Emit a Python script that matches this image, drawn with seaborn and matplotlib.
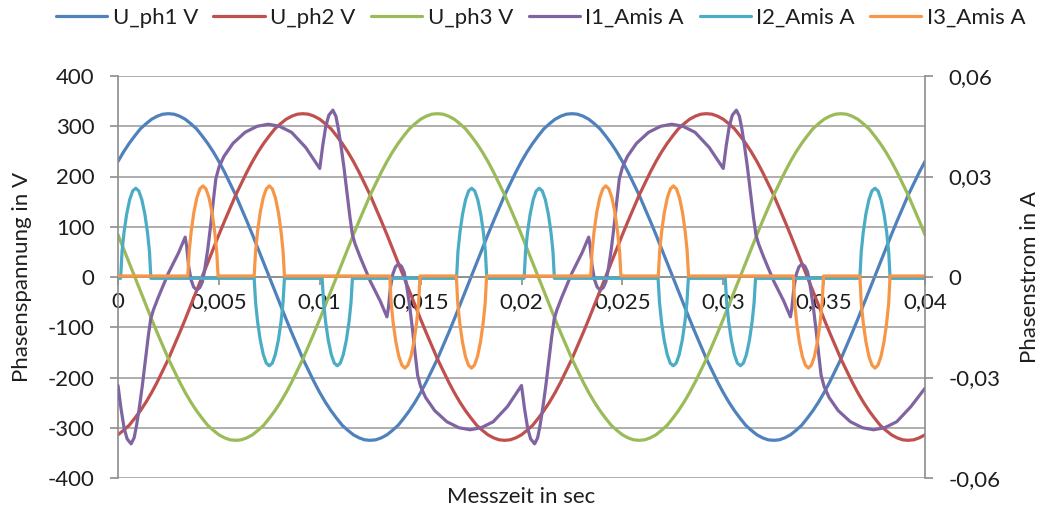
import numpy as np
import pandas as pd
import seaborn as sns
import matplotlib
matplotlib.use("Agg")
import matplotlib.pyplot as plt
from matplotlib.lines import Line2D

# ---------------------------------------------------------------------------
# Phase voltages in V, 145 samples from 0 to 40 ms (5 degree steps at 50 Hz)
# ---------------------------------------------------------------------------
t_volt_ms = np.linspace(0.0, 40.0, 145)

u_ph1 = [230, 249, 266, 281, 295, 305, 314, 320, 324, 325, 324, 320, 314, 305, 295, 281, 266, 249,
         230, 209, 186, 163, 137, 111, 84, 56, 28, 0, -28, -56, -84, -111, -137, -163, -186, -209,
         -230, -249, -266, -281, -295, -305, -314, -320, -324, -325, -324, -320, -314, -305, -295, -281, -266, -249,
         -230, -209, -186, -163, -137, -111, -84, -56, -28, 0, 28, 56, 84, 111, 137, 163, 186, 209,
         230, 249, 266, 281, 295, 305, 314, 320, 324, 325, 324, 320, 314, 305, 295, 281, 266, 249,
         230, 209, 186, 163, 137, 111, 84, 56, 28, 0, -28, -56, -84, -111, -137, -163, -186, -209,
         -230, -249, -266, -281, -295, -305, -314, -320, -324, -325, -324, -320, -314, -305, -295, -281, -266, -249,
         -230, -209, -186, -163, -137, -111, -84, -56, -28, 0, 28, 56, 84, 111, 137, 163, 186, 209,
         230]

u_ph2 = [-314, -305, -295, -281, -266, -249, -230, -209, -186, -163, -137, -111, -84, -56, -28, 0, 28, 56,
         84, 111, 137, 163, 186, 209,
         230, 249, 266, 281, 295, 305, 314, 320, 324, 325, 324, 320, 314, 305, 295, 281, 266, 249,
         230, 209, 186, 163, 137, 111, 84, 56, 28, 0, -28, -56, -84, -111, -137, -163, -186, -209,
         -230, -249, -266, -281, -295, -305, -314, -320, -324, -325, -324, -320, -314, -305, -295, -281, -266, -249,
         -230, -209, -186, -163, -137, -111, -84, -56, -28, 0, 28, 56, 84, 111, 137, 163, 186, 209,
         230, 249, 266, 281, 295, 305, 314, 320, 324, 325, 324, 320, 314, 305, 295, 281, 266, 249,
         230, 209, 186, 163, 137, 111, 84, 56, 28, 0, -28, -56, -84, -111, -137, -163, -186, -209,
         -230, -249, -266, -281, -295, -305, -314, -320, -324, -325, -324, -320,
         -314]

u_ph3 = [84, 56, 28, 0, -28, -56, -84, -111, -137, -163, -186, -209,
         -230, -249, -266, -281, -295, -305, -314, -320, -324, -325, -324, -320, -314, -305, -295, -281, -266, -249,
         -230, -209, -186, -163, -137, -111, -84, -56, -28, 0, 28, 56, 84, 111, 137, 163, 186, 209,
         230, 249, 266, 281, 295, 305, 314, 320, 324, 325, 324, 320, 314, 305, 295, 281, 266, 249,
         230, 209, 186, 163, 137, 111, 84, 56, 28, 0, -28, -56, -84, -111, -137, -163, -186, -209,
         -230, -249, -266, -281, -295, -305, -314, -320, -324, -325, -324, -320, -314, -305, -295, -281, -266, -249,
         -230, -209, -186, -163, -137, -111, -84, -56, -28, 0, 28, 56, 84, 111, 137, 163, 186, 209,
         230, 249, 266, 281, 295, 305, 314, 320, 324, 325, 324, 320, 314, 305, 295, 281, 266, 249,
         230, 209, 186, 163, 137, 111,
         84]

# ---------------------------------------------------------------------------
# Phase currents in mA, given at the breakpoints of each waveform (time in ms)
# ---------------------------------------------------------------------------
i1_ms = [0.00, 0.15, 0.30, 0.45, 0.65, 0.80, 0.92, 1.05, 1.20, 1.35, 1.50, 1.62, 1.75, 2.00, 2.50, 3.00, 3.25, 3.33, 3.40, 3.50,
         3.62, 3.75, 3.90, 4.05, 4.18, 4.30, 4.45, 4.60, 4.73, 4.85, 5.00, 5.25, 5.70, 6.30, 6.90, 7.45, 8.00, 8.60, 9.30,
         10.00, 10.15, 10.30, 10.45, 10.65, 10.80, 10.92, 11.05, 11.20, 11.35, 11.50, 11.62, 11.75, 12.00, 12.50, 13.00, 13.25, 13.33, 13.40, 13.50,
         13.62, 13.75, 13.90, 14.05, 14.18, 14.30, 14.45, 14.60, 14.73, 14.85, 15.00, 15.25, 15.70, 16.30, 16.90, 17.45, 18.00, 18.60, 19.30,
         20.00, 20.15, 20.30, 20.45, 20.65, 20.80, 20.92, 21.05, 21.20, 21.35, 21.50, 21.62, 21.75, 22.00, 22.50, 23.00, 23.25, 23.33, 23.40, 23.50,
         23.62, 23.75, 23.90, 24.05, 24.18, 24.30, 24.45, 24.60, 24.73, 24.85, 25.00, 25.25, 25.70, 26.30, 26.90, 27.45, 28.00, 28.60, 29.30,
         30.00, 30.15, 30.30, 30.45, 30.65, 30.80, 30.92, 31.05, 31.20, 31.35, 31.50, 31.62, 31.75, 32.00, 32.50, 33.00, 33.25, 33.33, 33.40, 33.50,
         33.62, 33.75, 33.90, 34.05, 34.18, 34.30, 34.45, 34.60, 34.73, 34.85, 35.00, 35.25, 35.70, 36.30, 36.90, 37.45, 38.00, 38.60, 39.30,
         40.00]
i1_ma = [-32.4, -39.3, -45.0, -48.3, -49.8, -48.0, -44.3, -39.3, -32.7, -25.2, -17.7, -12.6, -9.9, -6.0, 1.2, 7.2, 10.8, 11.9, 9.3, 3.3,
         -0.8, -3.0, -3.9, -3.2, -1.5, 2.3, 8.3, 15.8, 23.0, 29.3, 32.7, 36.0, 39.9, 43.2, 45.0, 45.6, 45.0, 43.2, 38.7,
         32.4, 39.3, 45.0, 48.3, 49.8, 48.0, 44.3, 39.3, 32.7, 25.2, 17.7, 12.6, 9.9, 6.0, -1.2, -7.2, -10.8, -11.9, -9.3, -3.3,
         0.8, 3.0, 3.9, 3.2, 1.5, -2.3, -8.3, -15.8, -23.0, -29.3, -32.7, -36.0, -39.9, -43.2, -45.0, -45.6, -45.0, -43.2, -38.7,
         -32.4, -39.3, -45.0, -48.3, -49.8, -48.0, -44.3, -39.3, -32.7, -25.2, -17.7, -12.6, -9.9, -6.0, 1.2, 7.2, 10.8, 11.9, 9.3, 3.3,
         -0.8, -3.0, -3.9, -3.2, -1.5, 2.3, 8.3, 15.8, 23.0, 29.3, 32.7, 36.0, 39.9, 43.2, 45.0, 45.6, 45.0, 43.2, 38.7,
         32.4, 39.3, 45.0, 48.3, 49.8, 48.0, 44.3, 39.3, 32.7, 25.2, 17.7, 12.6, 9.9, 6.0, -1.2, -7.2, -10.8, -11.9, -9.3, -3.3,
         0.8, 3.0, 3.9, 3.2, 1.5, -2.3, -8.3, -15.8, -23.0, -29.3, -32.7, -36.0, -39.9, -43.2, -45.0, -45.6, -45.0, -43.2, -38.7,
         -33.2]

i2_ms = [0.00,
         0.13, 0.20, 0.30, 0.43, 0.58, 0.73, 0.88, 1.03, 1.18, 1.33, 1.46, 1.56, 1.63,
         6.75, 6.82, 6.92, 7.05, 7.20, 7.35, 7.50, 7.65, 7.80, 7.95, 8.08, 8.18, 8.25,
         10.12, 10.19, 10.29, 10.42, 10.57, 10.72, 10.87, 11.02, 11.17, 11.32, 11.45, 11.55, 11.62,
         16.78, 16.85, 16.95, 17.08, 17.23, 17.38, 17.53, 17.68, 17.83, 17.98, 18.11, 18.21, 18.28,
         20.13, 20.20, 20.30, 20.43, 20.58, 20.73, 20.88, 21.03, 21.18, 21.33, 21.46, 21.56, 21.63,
         26.77, 26.84, 26.94, 27.07, 27.22, 27.37, 27.52, 27.67, 27.82, 27.97, 28.10, 28.20, 28.27,
         30.10, 30.17, 30.27, 30.40, 30.55, 30.70, 30.85, 31.00, 31.15, 31.30, 31.43, 31.53, 31.60,
         36.77, 36.84, 36.94, 37.07, 37.22, 37.37, 37.52, 37.67, 37.82, 37.97, 38.10, 38.20, 38.27,
         40.00]
i2_ma = [-0.4,
         -0.4, 7.6, 13.4, 18.8, 23.1, 25.7, 26.5, 25.7, 23.1, 18.8, 13.4, 7.6, -0.4,
         -0.4, -7.6, -13.4, -18.8, -23.1, -25.7, -26.5, -25.7, -23.1, -18.8, -13.4, -7.6, -0.4,
         -0.4, -7.6, -13.4, -18.8, -23.1, -25.7, -26.5, -25.7, -23.1, -18.8, -13.4, -7.6, -0.4,
         -0.4, 7.6, 13.4, 18.8, 23.1, 25.7, 26.5, 25.7, 23.1, 18.8, 13.4, 7.6, -0.4,
         -0.4, 7.6, 13.4, 18.8, 23.1, 25.7, 26.5, 25.7, 23.1, 18.8, 13.4, 7.6, -0.4,
         -0.4, -7.6, -13.4, -18.8, -23.1, -25.7, -26.5, -25.7, -23.1, -18.8, -13.4, -7.6, -0.4,
         -0.4, -7.6, -13.4, -18.8, -23.1, -25.7, -26.5, -25.7, -23.1, -18.8, -13.4, -7.6, -0.4,
         -0.4, 7.6, 13.4, 18.8, 23.1, 25.7, 26.5, 25.7, 23.1, 18.8, 13.4, 7.6, -0.4,
         -0.4]

i3_ms = [0.00,
         3.46, 3.53, 3.63, 3.76, 3.91, 4.06, 4.21, 4.36, 4.51, 4.66, 4.79, 4.89, 4.96,
         6.75, 6.82, 6.92, 7.05, 7.20, 7.35, 7.50, 7.65, 7.80, 7.95, 8.08, 8.18, 8.25,
         13.47, 13.54, 13.64, 13.77, 13.92, 14.07, 14.22, 14.37, 14.52, 14.67, 14.80, 14.90, 14.97,
         16.77, 16.84, 16.94, 17.07, 17.22, 17.37, 17.52, 17.67, 17.82, 17.97, 18.10, 18.20, 18.27,
         23.43, 23.50, 23.60, 23.73, 23.88, 24.03, 24.18, 24.33, 24.48, 24.63, 24.76, 24.86, 24.93,
         26.78, 26.85, 26.95, 27.08, 27.23, 27.38, 27.53, 27.68, 27.83, 27.98, 28.11, 28.21, 28.28,
         33.47, 33.54, 33.64, 33.77, 33.92, 34.07, 34.22, 34.37, 34.52, 34.67, 34.80, 34.90, 34.97,
         36.77, 36.84, 36.94, 37.07, 37.22, 37.37, 37.52, 37.67, 37.82, 37.97, 38.10, 38.20, 38.27,
         40.00]
i3_ma = [0.3,
         0.3, 7.8, 13.7, 19.3, 23.7, 26.3, 27.2, 26.3, 23.7, 19.3, 13.7, 7.8, 0.3,
         0.3, 7.8, 13.7, 19.3, 23.7, 26.3, 27.2, 26.3, 23.7, 19.3, 13.7, 7.8, 0.3,
         0.3, -7.8, -13.7, -19.3, -23.7, -26.3, -27.2, -26.3, -23.7, -19.3, -13.7, -7.8, 0.3,
         0.3, -7.8, -13.7, -19.3, -23.7, -26.3, -27.2, -26.3, -23.7, -19.3, -13.7, -7.8, 0.3,
         0.3, 7.8, 13.7, 19.3, 23.7, 26.3, 27.2, 26.3, 23.7, 19.3, 13.7, 7.8, 0.3,
         0.3, 7.8, 13.7, 19.3, 23.7, 26.3, 27.2, 26.3, 23.7, 19.3, 13.7, 7.8, 0.3,
         0.3, -7.8, -13.7, -19.3, -23.7, -26.3, -27.2, -26.3, -23.7, -19.3, -13.7, -7.8, 0.3,
         0.3, -7.8, -13.7, -19.3, -23.7, -26.3, -27.2, -26.3, -23.7, -19.3, -13.7, -7.8, 0.3,
         0.3]

series_names = ["U_ph1 V", "U_ph2 V", "U_ph3 V", "I1_Amis A", "I2_Amis A", "I3_Amis A"]
series_colors = ["#4F81BD", "#C0504D", "#9BBB59", "#8064A2", "#4BACC6", "#F79646"]

x_ticks = [0, 0.005, 0.01, 0.015, 0.02, 0.025, 0.03, 0.035, 0.04]
x_tick_labels = ["0", "0,005", "0,01", "0,015", "0,02", "0,025", "0,03", "0,035", "0,04"]
v_ticks = [400, 300, 200, 100, 0, -100, -200, -300, -400]
v_tick_labels = ["400", "300", "200", "100", "0", "-100", "-200", "-300", "-400"]
a_ticks = [0.06, 0.03, 0, -0.03, -0.06]
a_tick_labels = ["0,06", "0,03", "0", "-0,03", "-0,06"]

# ---------------------------------------------------------------------------
# Long-form tables
# ---------------------------------------------------------------------------
volt_df = pd.concat([
    pd.DataFrame({"t": t_volt_ms / 1000.0, "value": vals, "series": name})
    for name, vals in zip(series_names[:3], [u_ph1, u_ph2, u_ph3])
], ignore_index=True)

curr_df = pd.concat([
    pd.DataFrame({"t": np.asarray(ts) / 1000.0, "value": np.asarray(vs) / 1000.0, "series": name})
    for name, ts, vs in zip(series_names[3:], [i1_ms, i2_ms, i3_ms], [i1_ma, i2_ma, i3_ma])
], ignore_index=True)

# ---------------------------------------------------------------------------
# Styling
# ---------------------------------------------------------------------------
sns.set_theme(style="white")
plt.rcParams["font.family"] = ["Lato", "DejaVu Sans"]
text_color = "#1e1e1e"
axis_gray = "#8c8c8c"
grid_gray = "#a8a8a8"
fs = 16

fig = plt.figure(figsize=(10.48, 5.12), dpi=100)
ax = fig.add_axes([118 / 1048, 1 - 478 / 512, 807 / 1048, 402 / 512])
ax2 = ax.twinx()

lw = 2.3
sns.lineplot(data=volt_df, x="t", y="value", hue="series", hue_order=series_names[:3],
             palette=series_colors[:3], estimator=None, sort=False, linewidth=lw,
             legend=False, ax=ax)
sns.lineplot(data=curr_df, x="t", y="value", hue="series", hue_order=series_names[3:],
             palette=series_colors[3:], estimator=None, sort=False, linewidth=lw,
             legend=False, ax=ax2)

ax.set_xlim(0, 0.04)
ax.set_ylim(-400, 400)
ax2.set_ylim(-0.06, 0.06)

# gridlines every 100 V
ax.set_axisbelow(True)
ax.yaxis.grid(True, color=grid_gray, linewidth=1.3)
ax.xaxis.grid(False)

# spines: time axis crosses at zero
for name in ["top", "right"]:
    ax.spines[name].set_visible(False)
ax.spines["bottom"].set_position(("data", 0))
for name in ["top", "left", "bottom"]:
    ax2.spines[name].set_visible(False)
for sp in [ax.spines["left"], ax.spines["bottom"], ax2.spines["right"]]:
    sp.set_color(axis_gray)
    sp.set_linewidth(1.2)

ax.set_xticks(x_ticks)
ax.set_xticklabels(x_tick_labels)
ax.set_yticks(v_ticks)
ax.set_yticklabels(v_tick_labels)
ax2.set_yticks(a_ticks)
ax2.set_yticklabels(a_tick_labels)

ax.tick_params(axis="x", direction="out", length=6, width=1.2, color=axis_gray,
               pad=5, labelsize=fs, labelcolor=text_color, bottom=True)
ax.tick_params(axis="y", direction="out", length=6, width=1.2, color=axis_gray,
               pad=11, labelsize=fs, labelcolor=text_color, left=True)
ax2.tick_params(axis="y", direction="out", length=6, width=1.2, color=axis_gray,
                pad=11, labelsize=fs, labelcolor=text_color, right=True)

ax.set_xlabel("Messzeit in sec", fontsize=fs, color=text_color, va="center")
ax.xaxis.set_label_coords(0.5, -0.048)
ax.set_ylabel("Phasenspannung in V", fontsize=fs, color=text_color, va="center")
ax.yaxis.set_label_coords(-0.119, 0.5)
ax2.set_ylabel("Phasenstrom in A", fontsize=fs, color=text_color, va="center", rotation=90)
ax2.yaxis.set_label_coords(1.130, 0.5)

handles = [Line2D([0], [0], color=c, linewidth=lw) for c in series_colors]
fig.legend(handles, series_names, loc="center", bbox_to_anchor=(0.516, 1 - 18 / 512),
           ncol=6, frameon=False, fontsize=fs, handlelength=2.3, handletextpad=0.25,
           columnspacing=0.7, labelcolor=text_color)

fig.savefig("out.png", dpi=100)
